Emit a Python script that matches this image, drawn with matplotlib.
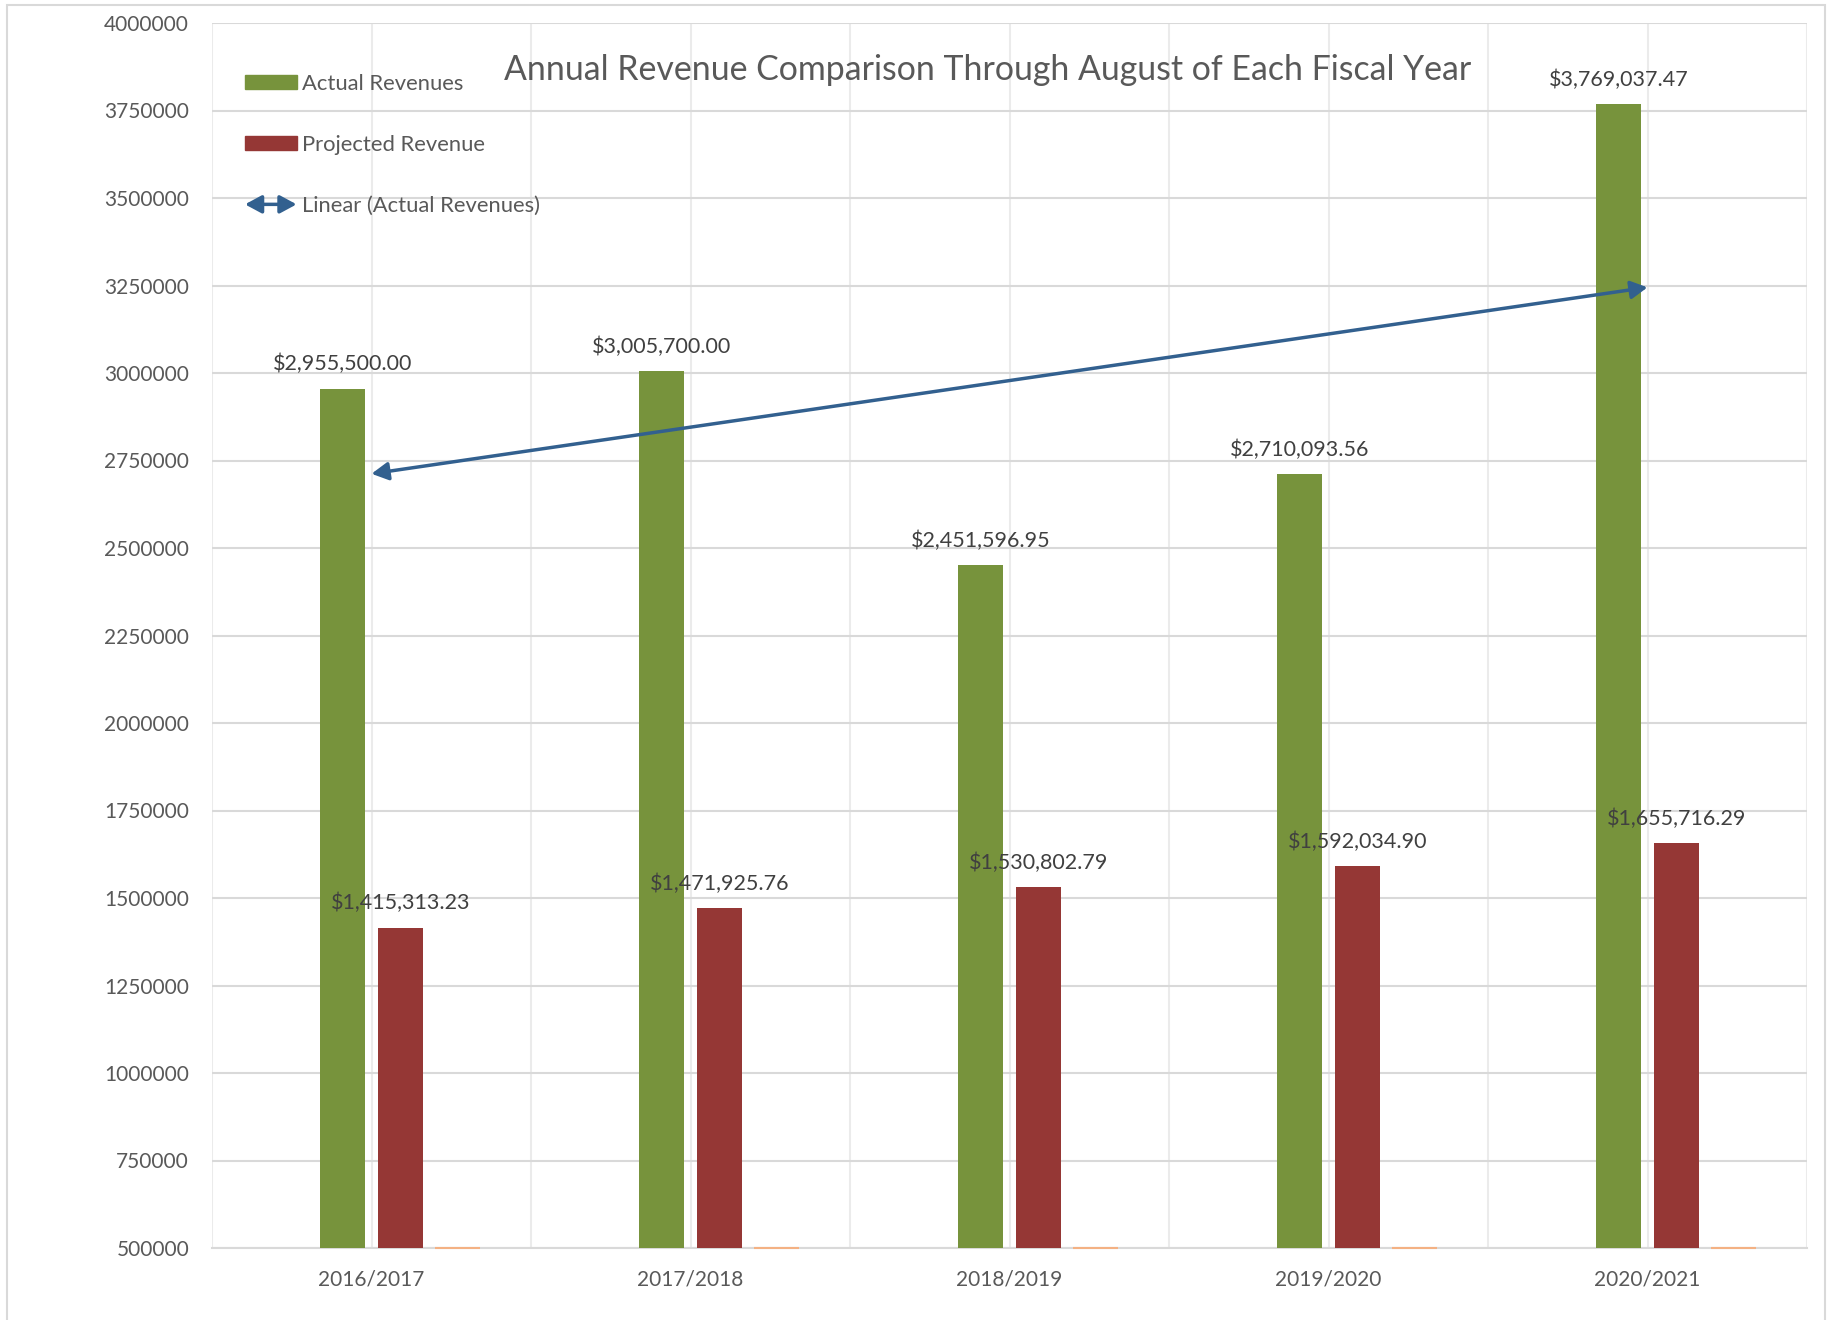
import numpy as np
import matplotlib
matplotlib.use("Agg")
import matplotlib.pyplot as plt
from matplotlib.patches import Rectangle, FancyArrowPatch, Patch
from matplotlib.lines import Line2D
from matplotlib.legend_handler import HandlerBase

# ---- data ----
categories = ["2016/2017", "2017/2018", "2018/2019", "2019/2020", "2020/2021"]
actual_revenues = [2955500.00, 3005700.00, 2451596.95, 2710093.56, 3769037.47]
projected_revenue = [1415313.23, 1471925.76, 1530802.79, 1592034.90, 1655716.29]
series3 = [0, 0, 0, 0, 0]
y_ticks = list(range(500000, 4000001, 250000))
title = "Annual Revenue Comparison Through August of Each Fiscal Year"

GREEN = "#77933C"
RED = "#953735"
ORANGE = "#F4B183"
BLUE = "#32608F"
TXT = "#595959"
LBL = "#404040"

plt.rcParams['font.family'] = ['Lato', 'DejaVu Sans']

W, H = 1835, 1320
fig = plt.figure(figsize=(W / 100, H / 100), dpi=100)
ax = fig.add_axes([212 / W, 1 - 1248 / H, (1807 - 212) / W, (1248 - 23) / H])

x = np.arange(len(categories))
ymin, ymax = 500000, 4000000
spacing = 0.18
bw = 0.141

ax.bar(x - 0.5 * spacing, actual_revenues, bw, color=GREEN, zorder=3)
ax.bar(x + 0.5 * spacing, projected_revenue, bw, color=RED, zorder=3)
s3 = np.clip(np.array(series3, dtype=float), ymin, None)
ax.bar(x + 1.5 * spacing, s3 - ymin, bw, bottom=ymin, color=ORANGE,
       edgecolor=ORANGE, linewidth=1.5, zorder=3, clip_on=False)

# data labels
for xi, v in zip(x - 0.5 * spacing, actual_revenues):
    ax.annotate(f"${v:,.2f}", (xi, v), xytext=(0, 17.5), textcoords="offset points",
                ha="center", va="center", fontsize=15.5, color=LBL, zorder=5)
for xi, v in zip(x + 0.5 * spacing, projected_revenue):
    ax.annotate(f"${v:,.2f}", (xi, v), xytext=(0, 17.5), textcoords="offset points",
                ha="center", va="center", fontsize=15.5, color=LBL, zorder=5)

# linear trendline of actual revenues
coef = np.polyfit(x + 1, actual_revenues, 1)
t0 = np.polyval(coef, x[0] + 1)
t1 = np.polyval(coef, x[-1] + 1)
ax.annotate("", xy=(x[-1], t1), xytext=(x[0], t0),
            arrowprops=dict(arrowstyle="<|-|>,head_length=0.5,head_width=0.27",
                            mutation_scale=20, color=BLUE, lw=2.5,
                            shrinkA=0, shrinkB=0), zorder=6)

# axes styling
ax.set_xlim(-0.5, len(categories) - 0.5)
ax.set_ylim(ymin, ymax)
ax.set_yticks(y_ticks)
ax.set_yticklabels([str(t) for t in y_ticks])
ax.set_xticks(x)
ax.set_xticklabels(categories)
ax.set_xticks(np.arange(-0.5, len(categories), 1.0), minor=True)
ax.tick_params(axis="both", which="both", length=0, labelsize=15, labelcolor=TXT)
ax.tick_params(axis="y", pad=16.5)
ax.tick_params(axis="x", pad=15.7)
ax.set_axisbelow(True)
ax.grid(axis="y", color="#D9D9D9", lw=1.5)
ax.grid(axis="x", which="both", color="#EBEBEB", lw=1.5)
for s in ["top", "left", "right"]:
    ax.spines[s].set_visible(False)
ax.spines["bottom"].set_color("#D9D9D9")
ax.spines["bottom"].set_linewidth(1.5)


class HandlerArrow(HandlerBase):
    def create_artists(self, legend, orig_handle, xdescent, ydescent, width, height, fontsize, trans):
        yc = height / 2 - ydescent
        a = FancyArrowPatch((-xdescent, yc), (-xdescent + width, yc),
                            arrowstyle="<|-|>,head_length=0.5,head_width=0.27",
                            mutation_scale=20, color=BLUE, lw=2.5,
                            shrinkA=0, shrinkB=0, transform=trans)
        return [a]


arrow_handle = Line2D([], [], color=BLUE)
handles = [Patch(color=GREEN), Patch(color=RED), arrow_handle]
labels = ["Actual Revenues", "Projected Revenue", "Linear (Actual Revenues)"]
leg = ax.legend(handles, labels, loc="upper left",
                bbox_to_anchor=(245 / W, 1 - 74 / H), bbox_transform=fig.transFigure,
                frameon=False, fontsize=15.8, labelcolor=TXT, borderpad=0, borderaxespad=0,
                handlelength=2.35, handleheight=0.63, handletextpad=0.24, labelspacing=1.87,
                handler_map={arrow_handle: HandlerArrow()})
leg.set_zorder(7)

fig.text(988 / W, 1 - 69.5 / H, title, ha="center", va="center", fontsize=24.4, color=TXT)

# chart area border
fig.patches.append(Rectangle((7 / W, -0.01), (1825 - 7) / W, 1 - 5 / H + 0.01,
                             transform=fig.transFigure, fill=False,
                             edgecolor="#D9D9D9", lw=1.5))

fig.savefig("out.png", dpi=100)
